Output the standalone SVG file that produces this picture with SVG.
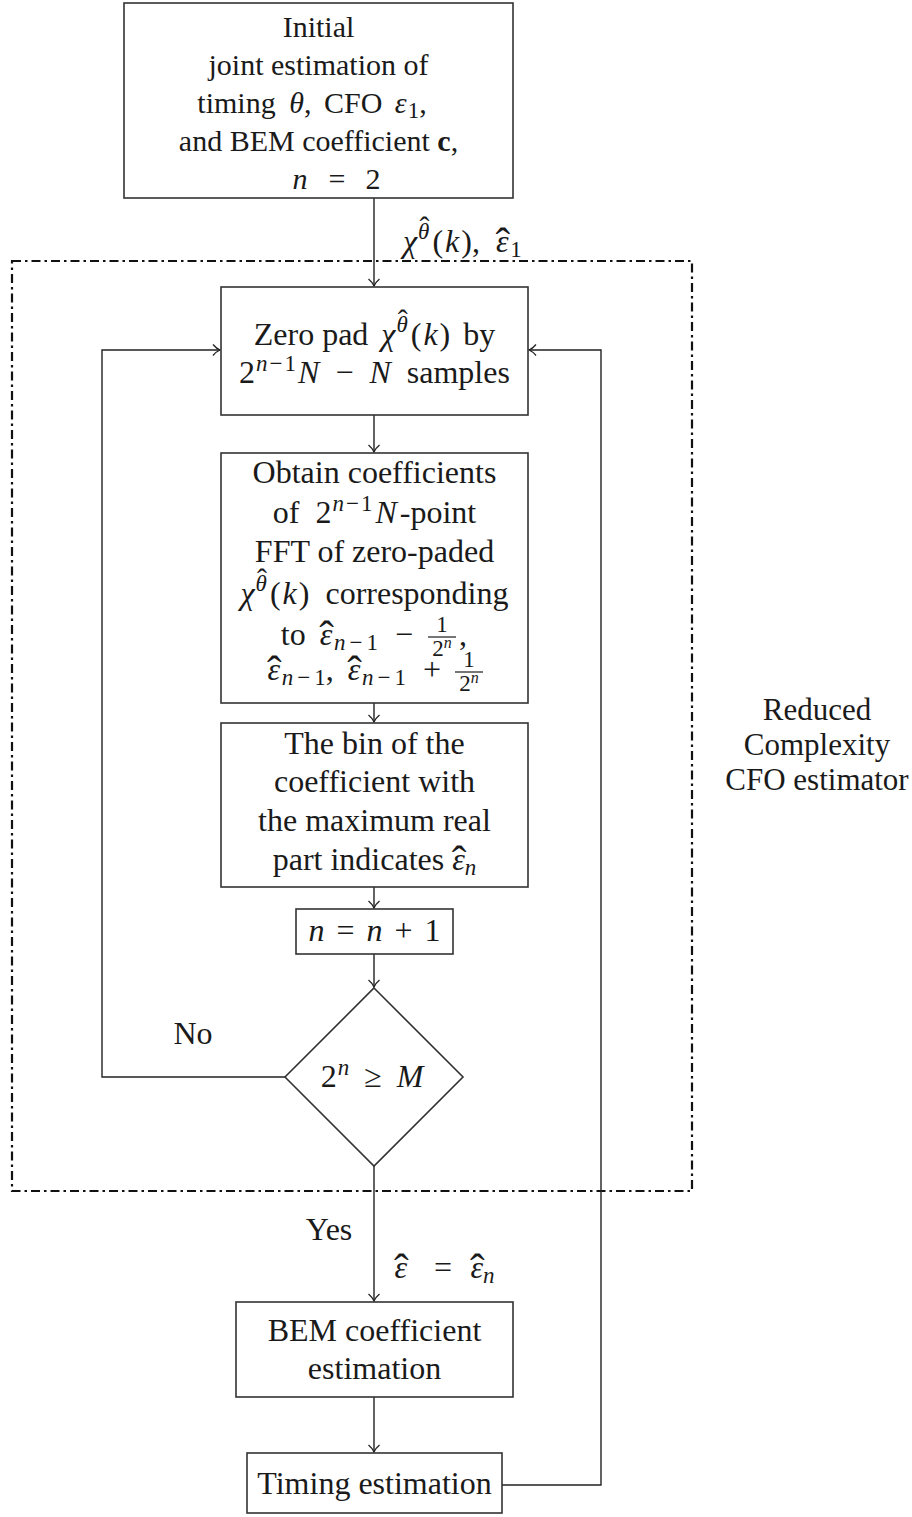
<svg xmlns="http://www.w3.org/2000/svg" width="912" height="1517" viewBox="0 0 912 1517">
  <style>
    .box { fill: #fff; stroke: #333; stroke-width: 1.6; }
    .conn { fill: none; stroke: #222; stroke-width: 1.4; }
    .frame { fill: none; stroke: #111; stroke-width: 2.2; stroke-dasharray: 9 4 2.5 4; }
    .t { font-family: "Liberation Serif", "Times New Roman", serif; font-size: 32px; fill: #1a1a1a; text-anchor: middle; }
    .top { font-size: 30px; }
    .side { font-size: 31px; }
    .s { text-anchor: start; }
    .e { text-anchor: end; }
    .i { font-style: italic; }
    .b { font-weight: bold; }
    .sm { font-size: 23px; }
    .hat { font-size: 44px; font-style: normal; }
    .hat-sm { font-size: 30px; font-style: normal; }
    .fr { stroke: #1a1a1a; stroke-width: 1.2; }
  </style>
  <defs>
    <marker id="arr" viewBox="-8 -6 9 12" markerWidth="9" markerHeight="12" refX="0" refY="0" orient="auto" markerUnits="userSpaceOnUse">
      <path d="M-7,-5.5 C-4.5,-2.5 -1.5,-0.6 0,0 C-1.5,0.6 -4.5,2.5 -7,5.5" fill="none" stroke="#222" stroke-width="1.3"/>
    </marker>
  </defs>

  <!-- dash-dot frame around the iterative CFO search -->
  <rect id="cfo-frame" class="frame" x="12" y="261" width="680" height="930"/>

  <g id="connectors">
    <line class="conn" x1="374" y1="198" x2="374" y2="286" marker-end="url(#arr)"/>
    <line class="conn" x1="374" y1="415" x2="374" y2="452" marker-end="url(#arr)"/>
    <line class="conn" x1="374" y1="703" x2="374" y2="722" marker-end="url(#arr)"/>
    <line class="conn" x1="374" y1="887" x2="374" y2="908" marker-end="url(#arr)"/>
    <line class="conn" x1="374" y1="954" x2="374" y2="987" marker-end="url(#arr)"/>
    <polyline class="conn" points="285,1077 102,1077 102,350 220,350" marker-end="url(#arr)"/>
    <line class="conn" x1="374" y1="1166" x2="374" y2="1301" marker-end="url(#arr)"/>
    <line class="conn" x1="374" y1="1397" x2="374" y2="1452" marker-end="url(#arr)"/>
    <polyline class="conn" points="502,1485 601,1485 601,350 529,350" marker-end="url(#arr)"/>
  </g>

  <g id="init">
    <rect class="box" x="124" y="3" width="389" height="195"/>
    <text class="t top" x="318.5" y="37">Initial</text>
    <text class="t top" x="318.5" y="75">joint estimation of</text>
    <text class="t top" x="312" y="113">timing<tspan dx="5"> </tspan><tspan class="i" dx="1">θ</tspan>,<tspan dx="5"> CFO</tspan><tspan dx="5"> </tspan><tspan class="i">ε</tspan><tspan class="sm" dy="5" dx="1">1</tspan><tspan dy="-5">,</tspan></text>
    <text class="t top" x="318.5" y="151">and BEM coefficient <tspan class="b">c</tspan>,</text>
    <text class="t top i" x="300" y="189">n</text>
    <text class="t top" x="337" y="189">=</text>
    <text class="t top" x="373" y="189">2</text>
  </g>

  <g id="label-chi">
    <text class="t s" x="403" y="252"><tspan class="i">χ</tspan><tspan class="sm i" dy="-13" dx="1">θ</tspan><tspan class="hat-sm" dx="-10" dy="-2">ˆ</tspan><tspan dy="15" dx="3">(</tspan><tspan class="i" dx="2">k</tspan><tspan dx="2">),</tspan><tspan dx="8"> </tspan><tspan class="i">ε</tspan><tspan class="hat" dx="-13" dy="6">ˆ</tspan><tspan class="sm" dx="0" dy="-1">1</tspan></text>
  </g>

  <g id="zero-pad">
    <rect class="box" x="221" y="287" width="307" height="128"/>
    <text class="t" x="374.5" y="345">Zero pad<tspan dx="5"> </tspan><tspan class="i">χ</tspan><tspan class="sm i" dy="-13" dx="1">θ</tspan><tspan class="hat-sm" dx="-10" dy="-2">ˆ</tspan><tspan dy="15" dx="3">(</tspan><tspan class="i" dx="2">k</tspan><tspan dx="2">)</tspan><tspan dx="5"> by</tspan></text>
    <text class="t" x="374.5" y="383">2<tspan class="sm i" dy="-12" dx="1">n</tspan><tspan class="sm" dx="2">−</tspan><tspan class="sm" dx="2">1</tspan><tspan class="i" dy="12" dx="2">N</tspan><tspan dx="8"> −</tspan><tspan class="i" dx="8"> N</tspan><tspan dx="8"> samples</tspan></text>
  </g>

  <g id="fft">
    <rect class="box" x="221" y="453" width="307" height="250"/>
    <text class="t" x="374.5" y="483">Obtain coefficients</text>
    <text class="t" x="374.5" y="523">of<tspan dx="8"> 2</tspan><tspan class="sm i" dy="-12" dx="1">n</tspan><tspan class="sm" dx="2">−</tspan><tspan class="sm" dx="2">1</tspan><tspan class="i" dy="12" dx="3">N</tspan><tspan dx="3">-point</tspan></text>
    <text class="t" x="374.5" y="562">FFT of zero-paded</text>
    <text class="t" x="374.5" y="604"><tspan class="i">χ</tspan><tspan class="sm i" dy="-13" dx="1">θ</tspan><tspan class="hat-sm" dx="-10" dy="-2">ˆ</tspan><tspan dy="15" dx="3">(</tspan><tspan class="i" dx="2">k</tspan><tspan dx="2">)</tspan><tspan dx="8"> corresponding</tspan></text>
    <text class="t e" x="413" y="645">to<tspan dx="6"> </tspan><tspan class="i">ε</tspan><tspan class="hat" dx="-13" dy="6">ˆ</tspan><tspan class="sm i" dx="0" dy="-1">n</tspan><tspan class="sm" dx="4">−</tspan><tspan class="sm" dx="4">1</tspan><tspan dy="-5" dx="9"> −</tspan></text>
    <text class="t sm" x="442" y="632">1</text>
    <line class="fr" x1="428" y1="637" x2="456" y2="637"/>
    <text class="t sm" x="442" y="656">2<tspan class="i" font-size="16" dy="-8">n</tspan></text>
    <text class="t s" x="459" y="645">,</text>
    <text class="t e" x="441" y="680"><tspan class="i">ε</tspan><tspan class="hat" dx="-13" dy="6">ˆ</tspan><tspan class="sm i" dx="0" dy="-1">n</tspan><tspan class="sm" dx="4">−</tspan><tspan class="sm" dx="4">1</tspan><tspan dy="-5">,</tspan><tspan dx="6"> </tspan><tspan class="i">ε</tspan><tspan class="hat" dx="-13" dy="6">ˆ</tspan><tspan class="sm i" dx="0" dy="-1">n</tspan><tspan class="sm" dx="4">−</tspan><tspan class="sm" dx="4">1</tspan><tspan dy="-5" dx="9"> +</tspan></text>
    <text class="t sm" x="469" y="667">1</text>
    <line class="fr" x1="455" y1="672" x2="483" y2="672"/>
    <text class="t sm" x="469" y="691">2<tspan class="i" font-size="16" dy="-8">n</tspan></text>
  </g>

  <g id="argmax">
    <rect class="box" x="221" y="723" width="307" height="164"/>
    <text class="t" x="374.5" y="754">The bin of the</text>
    <text class="t" x="374.5" y="792">coefficient with</text>
    <text class="t" x="374.5" y="831">the maximum real</text>
    <text class="t" x="374.5" y="870">part indicates <tspan class="i">ε</tspan><tspan class="hat" dx="-13" dy="6">ˆ</tspan><tspan class="sm i" dx="-1.7" dy="-1">n</tspan></text>
  </g>

  <g id="increment">
    <rect class="box" x="296" y="909" width="157" height="45"/>
    <text class="t" x="374.5" y="941"><tspan class="i">n</tspan><tspan dx="4"> =</tspan><tspan class="i" dx="12">n</tspan><tspan dx="4"> +</tspan><tspan dx="4"> 1</tspan></text>
  </g>

  <g id="decision">
    <polygon class="box" points="374,988 463,1077 374,1166 285,1077"/>
    <text class="t" x="372" y="1087">2<tspan class="sm i" dy="-12" dx="1">n</tspan><tspan dy="12" dx="7"> ≥</tspan><tspan class="i" dx="7"> M</tspan></text>
  </g>

  <g id="branch-labels">
    <text class="t" x="193" y="1044">No</text>
    <text class="t" x="329" y="1240">Yes</text>
    <text class="t s" x="394" y="1278"><tspan class="i">ε</tspan><tspan class="hat" dx="-13" dy="6">ˆ</tspan></text>
    <text class="t" x="443" y="1278">=</text>
    <text class="t s" x="470" y="1278"><tspan class="i">ε</tspan><tspan class="hat" dx="-13" dy="6">ˆ</tspan><tspan class="sm i" dx="-1.7" dy="-1">n</tspan></text>
  </g>

  <g id="bem">
    <rect class="box" x="236" y="1302" width="277" height="95"/>
    <text class="t" x="374.5" y="1341">BEM coefficient</text>
    <text class="t" x="374.5" y="1379">estimation</text>
  </g>

  <g id="timing">
    <rect class="box" x="247" y="1453" width="255" height="60"/>
    <text class="t" x="374.5" y="1494">Timing estimation</text>
  </g>

  <g id="frame-label">
    <text class="t side" x="817" y="720">Reduced</text>
    <text class="t side" x="817" y="755">Complexity</text>
    <text class="t side" x="817" y="790">CFO estimator</text>
  </g>
</svg>
